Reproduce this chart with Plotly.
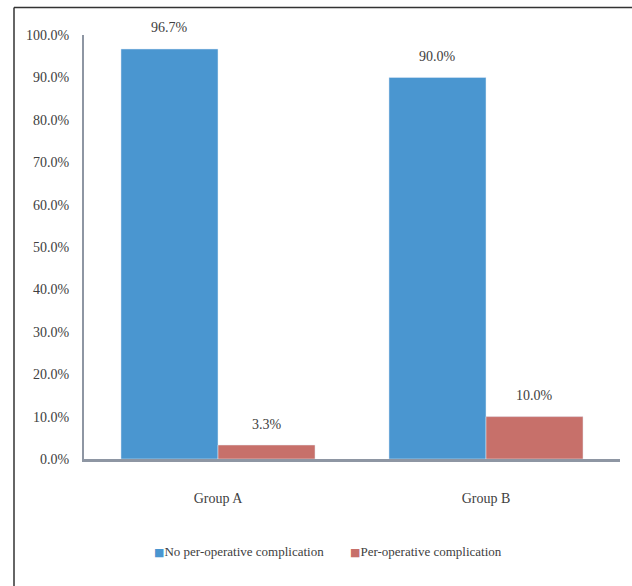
import plotly.graph_objects as go

categories = ["Group A", "Group B"]
no_comp = [96.7, 90.0]
comp = [3.3, 10.0]
series_names = ["No per-operative complication", "Per-operative complication"]
y_ticks = [0, 10, 20, 30, 40, 50, 60, 70, 80, 90, 100]

BLUE = "#4A96D0"
RED = "#C7706A"
TXT = "#404040"
FONT = "Liberation Serif"
BARGAP = 0.276

fig = go.Figure()
fig.add_trace(go.Bar(x=categories, y=no_comp, name=series_names[0], marker_color=BLUE))
fig.add_trace(go.Bar(x=categories, y=comp, name=series_names[1], marker_color=RED))

bw = (1 - BARGAP) / 2
for vals, off in ((no_comp, -bw / 2), (comp, bw / 2)):
    for i, v in enumerate(vals):
        fig.add_annotation(x=i + off, y=v, xref="x", yref="y", text=f"{v:.1f}%",
                           showarrow=False, yanchor="middle", yshift=21,
                           font=dict(family=FONT, size=14, color=TXT))

# compact legend (square glyph right next to the text)
PW, PH, L, T = 536, 424, 84, 35
def px_x(p):
    return (p - L) / PW
def px_y(p):
    return (T + PH - p) / PH
for name, col, xpix in ((series_names[0], BLUE, 152), (series_names[1], RED, 348)):
    fig.add_annotation(xref="paper", yref="paper", x=px_x(xpix), y=px_y(551),
                       xanchor="left", yanchor="middle", showarrow=False,
                       text=f"<span style='color:{col};font-family:DejaVu Sans;font-size:11px'>■</span>{name}",
                       font=dict(family=FONT, size=13, color=TXT))

# outer frame (top and left edges)
x0 = px_x(14)
ytop = px_y(7.5)
fig.add_shape(type="line", xref="paper", yref="paper", x0=x0, x1=1.05, y0=ytop, y1=ytop,
              line=dict(color="#333333", width=1.5))
fig.add_shape(type="line", xref="paper", yref="paper", x0=x0, x1=x0, y0=ytop, y1=-0.35,
              line=dict(color="#333333", width=1.5))

fig.update_layout(
    width=632, height=586,
    margin=dict(l=L, r=12, t=T, b=127),
    paper_bgcolor="white", plot_bgcolor="white",
    barmode="group", bargap=BARGAP, bargroupgap=0,
    font=dict(family=FONT, size=13, color=TXT),
    showlegend=False,
    xaxis=dict(showline=True, linecolor="#8E96A3", linewidth=2.5, showgrid=False,
               ticks="", tickfont=dict(family=FONT, size=14, color=TXT),
               ticklabelstandoff=24),
    yaxis=dict(range=[0, 100], tickvals=y_ticks,
               ticktext=[f"{t:.1f}%" for t in y_ticks],
               showline=True, linecolor="#8E96A3", linewidth=2, showgrid=False,
               zeroline=False, ticks="", ticklabelstandoff=10,
               tickfont=dict(family=FONT, size=14, color=TXT)),
)

fig.write_html("out.html")
